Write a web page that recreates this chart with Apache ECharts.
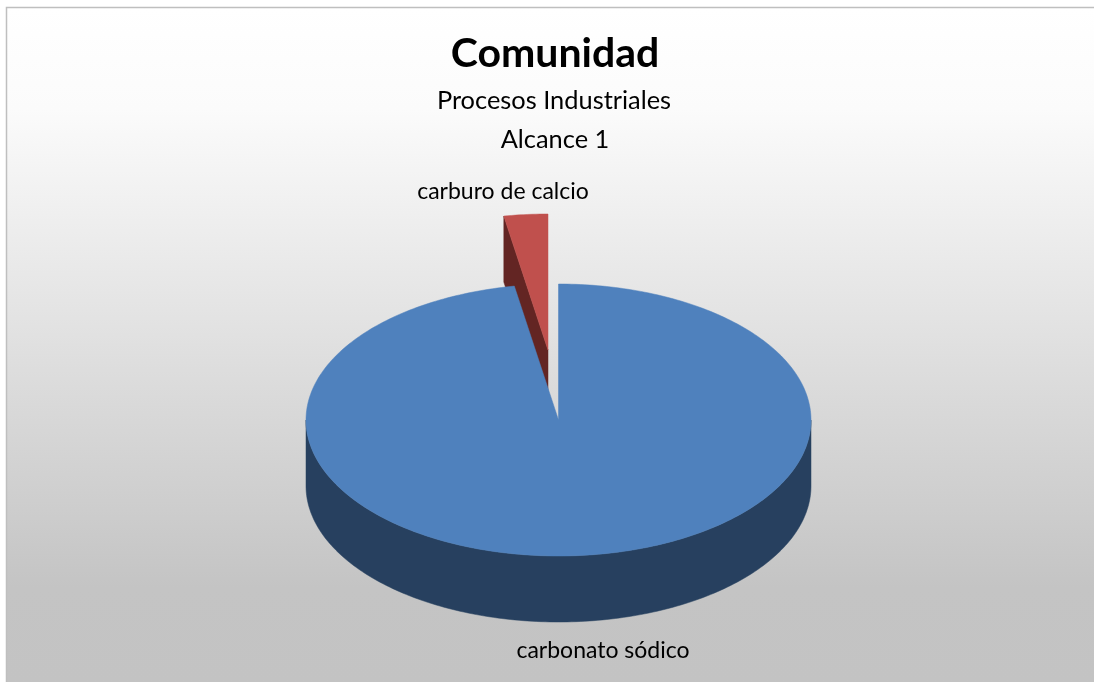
<!DOCTYPE html>
<html><head><meta charset="utf-8">
<style>html,body{margin:0;padding:0;background:#fff}#c{width:1094px;height:682px}</style>
<script src="https://cdn.jsdelivr.net/npm/echarts@6/dist/echarts.min.js"></script>
</head><body><div id="c"></div>
<script>
const categories = ['carbonato sódico', 'carburo de calcio'];
const seriesValues = [97.2, 2.8];
const titleLines = ['Comunidad', 'Procesos Industriales', 'Alcance 1'];

const topColors = ['#4f81bd', '#c0504d'];
const sideColors = ['#27405f', '#632523'];
const CX = 558.5, CY = 420, RX = 252.5, RY = 136, DEPTH = 66;
const EXPLODE = [null, [-10.5, -70]];
const LABEL_POS = [[603, 651], [503, 192]];
const total = seriesValues.reduce((a, b) => a + b, 0);

function rim(deg, ox, oy) {
  const t = deg * Math.PI / 180;
  return [CX + ox + RX * Math.sin(t), CY + oy - RY * Math.cos(t)];
}
function arc(a0, a1, ox, oy) {
  const pts = [], n = Math.max(2, Math.ceil(Math.abs(a1 - a0)));
  for (let i = 0; i <= n; i++) pts.push(rim(a0 + (a1 - a0) * i / n, ox, oy));
  return pts;
}
function renderItem(params, api) {
  const i = params.dataIndex;
  let before = 0;
  for (let k = 0; k < i; k++) before += seriesValues[k];
  const a0 = before / total * 360, a1 = a0 + api.value(1) / total * 360;
  const [ox, oy] = EXPLODE[i] || [0, 0];
  const apex = [CX + ox, CY + oy];
  const children = [];
  const poly = (points, fill, z2) => children.push({
    type: 'polygon', shape: { points }, z2,
    style: { fill, stroke: fill, lineWidth: 0.5 }
  });
  const zBase = i === 0 ? 10 : 0;
  const f0 = Math.max(a0, 90), f1 = Math.min(a1, 270);
  if (f1 > f0) {
    poly(arc(f0, f1, ox, oy).concat(arc(f1, f0, ox, oy + DEPTH)), sideColors[i], zBase + 1);
  }
  if (EXPLODE[i]) {
    const p = rim(a0, ox, oy);
    poly([apex, p, [p[0], p[1] + DEPTH], [apex[0], apex[1] + DEPTH]], sideColors[i], zBase + 1);
  }
  poly([apex].concat(arc(a0, a1, ox, oy)), topColors[i], zBase + 2);
  children.push({
    type: 'text', z2: 30,
    style: {
      x: LABEL_POS[i][0], y: LABEL_POS[i][1], text: api.value(0) === i ? categories[i] : '',
      fill: '#000', font: '23px Lato', align: 'center', verticalAlign: 'middle'
    }
  });
  return { type: 'group', children };
}

const chart = echarts.init(document.getElementById('c'), null, { renderer: 'canvas' });
chart.setOption({
  animation: false,
  backgroundColor: '#fff',
  title: [
    { text: titleLines[0], left: 550, top: 28, textAlign: 'center',
      textStyle: { fontFamily: 'Lato', fontSize: 41, fontWeight: 'bold', color: '#000' } },
    { text: titleLines[1], left: 549, top: 83, textAlign: 'center',
      textStyle: { fontFamily: 'Lato', fontSize: 25.4, fontWeight: 'normal', color: '#000' } },
    { text: titleLines[2], left: 550, top: 122, textAlign: 'center',
      textStyle: { fontFamily: 'Lato', fontSize: 25.4, fontWeight: 'normal', color: '#000' } }
  ],
  graphic: [{
    type: 'rect', z: -10, silent: true,
    shape: { x: 7, y: 8, width: 1087, height: 674 },
    style: { fill: new echarts.graphic.LinearGradient(0, 0, 0, 1, [
      { offset: 0, color: '#ffffff' },
      { offset: 0.15, color: '#fbfbfb' },
      { offset: 0.86, color: '#c4c4c4' },
      { offset: 1, color: '#c3c3c3' }]) }
  }, {
    type: 'polyline', z: -9, silent: true,
    shape: { points: [[6.5, 682], [6.5, 7.5], [1094, 7.5]] },
    style: { fill: 'none', stroke: '#bfbfbf', lineWidth: 1.5 }
  }],
  series: [{
    type: 'custom',
    coordinateSystem: 'none',
    renderItem,
    silent: true,
    data: seriesValues.map((v, i) => [i, v])
  }]
});
</script></body></html>
